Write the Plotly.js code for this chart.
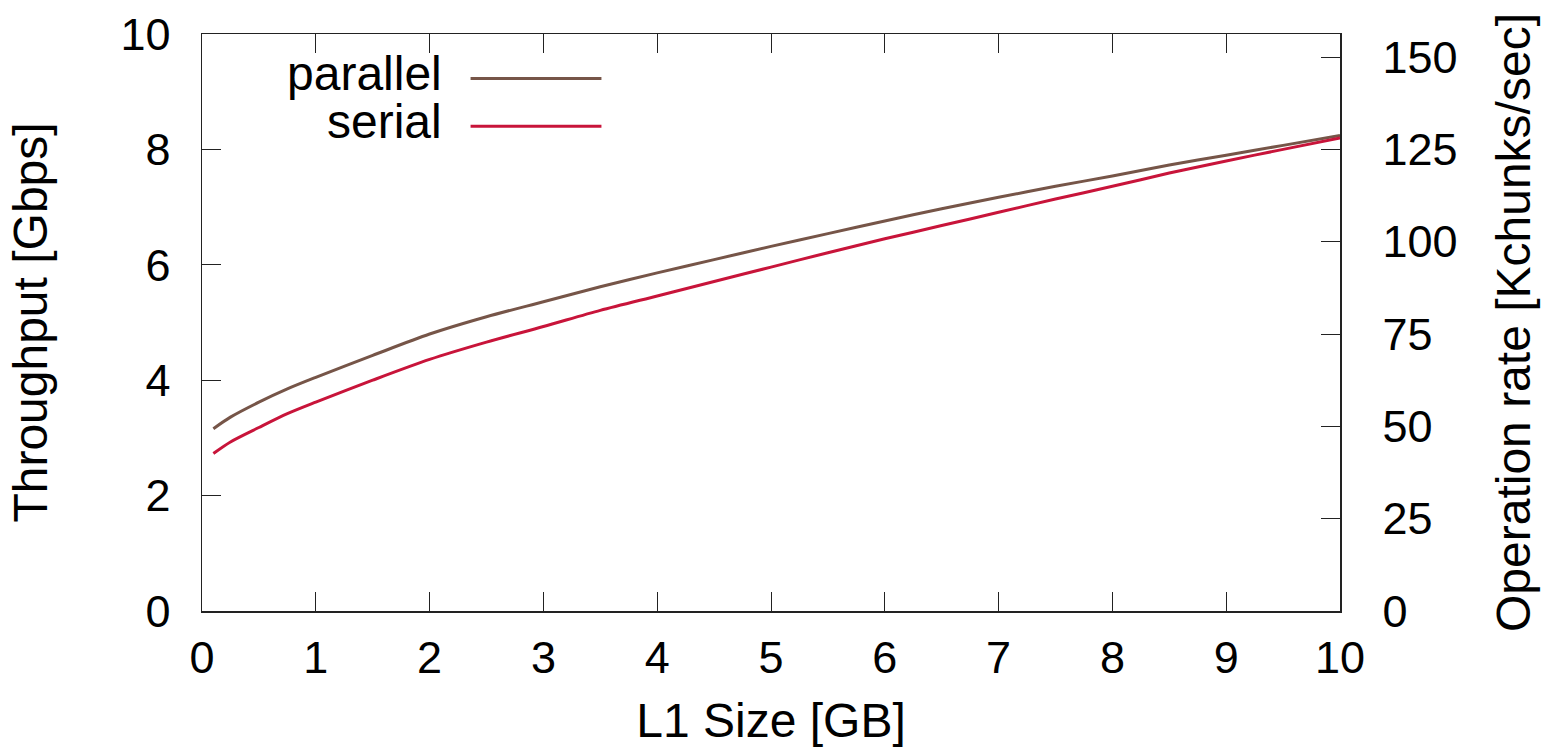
<!DOCTYPE html>
<html>
<head>
<meta charset="utf-8">
<script src="https://cdn.plot.ly/plotly-3.0.1.min.js"></script>
<style>html,body{margin:0;padding:0;background:#fff;}#chart{width:1557px;height:751px;}</style>
</head>
<body>
<div id="chart"></div>
<script>
const l1Size = [0.1, 0.25, 0.5, 0.75, 1, 1.5, 2, 2.5, 3, 3.5, 4, 4.5, 5, 5.5, 6, 6.5, 7, 7.5, 8, 8.5, 9, 9.5, 10];
const parallelGbps = [3.16, 3.36, 3.62, 3.85, 4.05, 4.43, 4.80, 5.10, 5.36, 5.62, 5.86, 6.09, 6.32, 6.54, 6.76, 6.97, 7.17, 7.36, 7.54, 7.73, 7.90, 8.07, 8.24];
const serialGbps = [2.73, 2.93, 3.18, 3.42, 3.62, 4.00, 4.36, 4.66, 4.93, 5.21, 5.46, 5.71, 5.96, 6.21, 6.45, 6.68, 6.91, 7.14, 7.36, 7.59, 7.80, 8.00, 8.20];
const seriesNames = ["parallel", "serial"];
const seriesColors = ["#765548", "#c8143a"];

const FONT = '"Liberation Sans", Arial, Helvetica, sans-serif';
const axisColor = '#222';
const TICK = 45, TITLE = 48;

const traces = [
  {x: l1Size, y: parallelGbps, name: seriesNames[0], mode: 'lines', line: {color: seriesColors[0], width: 3, shape: 'spline', smoothing: 0.8}, showlegend: false},
  {x: l1Size, y: serialGbps, name: seriesNames[1], mode: 'lines', line: {color: seriesColors[1], width: 3, shape: 'spline', smoothing: 0.8}, showlegend: false},
  {x: [], y: [], yaxis: 'y2', showlegend: false, hoverinfo: 'skip'}
];

const legendY = [0.923, 0.84];
const shapes = [];
const annotations = [];
seriesNames.forEach((n, i) => {
  shapes.push({type: 'line', xref: 'paper', yref: 'paper', x0: 0.236, x1: 0.351, y0: legendY[i], y1: legendY[i], line: {color: seriesColors[i], width: 3}});
  annotations.push({text: n, xref: 'paper', yref: 'paper', x: 0.213, y: legendY[i] + 0.009, xanchor: 'right', yanchor: 'middle', showarrow: false, font: {family: FONT, size: TITLE, color: '#000'}});
});

const layout = {
  width: 1557, height: 751,
  margin: {l: 202, r: 217, t: 34, b: 140},
  paper_bgcolor: '#fff', plot_bgcolor: '#fff',
  font: {family: FONT, size: TICK, color: '#000'},
  showlegend: false,
  xaxis: {
    range: [0, 10], dtick: 1, tick0: 0,
    showgrid: false, zeroline: false,
    showline: true, linecolor: axisColor, linewidth: 1.5, mirror: 'ticks',
    ticks: 'inside', ticklen: 19, tickwidth: 1, tickcolor: axisColor,
    ticklabelstandoff: 6,
    tickfont: {family: FONT, size: TICK, color: '#000'},
    title: {text: 'L1 Size [GB]', font: {family: FONT, size: TITLE, color: '#000'}, standoff: 22},
    automargin: false
  },
  yaxis: {
    range: [0, 10], dtick: 2, tick0: 0,
    showgrid: false, zeroline: false,
    showline: true, linecolor: axisColor, linewidth: 1.5, mirror: true,
    ticks: 'inside', ticklen: 19, tickwidth: 1, tickcolor: axisColor,
    ticklabelstandoff: 21,
    tickfont: {family: FONT, size: TICK, color: '#000'},
    title: {text: 'Throughput [Gbps]', font: {family: FONT, size: TITLE, color: '#000'}, standoff: 57},
    automargin: false
  },
  yaxis2: {
    overlaying: 'y', side: 'right', anchor: 'x',
    range: [0, 156.25], dtick: 25, tick0: 0,
    showgrid: false, zeroline: false,
    showline: true, linecolor: axisColor, linewidth: 1.5,
    ticks: 'inside', ticklen: 19, tickwidth: 1, tickcolor: axisColor,
    ticklabelstandoff: 32,
    tickfont: {family: FONT, size: TICK, color: '#000'},
    title: {text: 'Operation rate [Kchunks/sec]', font: {family: FONT, size: TITLE, color: '#000'}, standoff: 40},
    automargin: false
  },
  shapes: shapes,
  annotations: annotations
};

Plotly.newPlot('chart', traces, layout, {displayModeBar: false, staticPlot: true});
</script>
</body>
</html>
